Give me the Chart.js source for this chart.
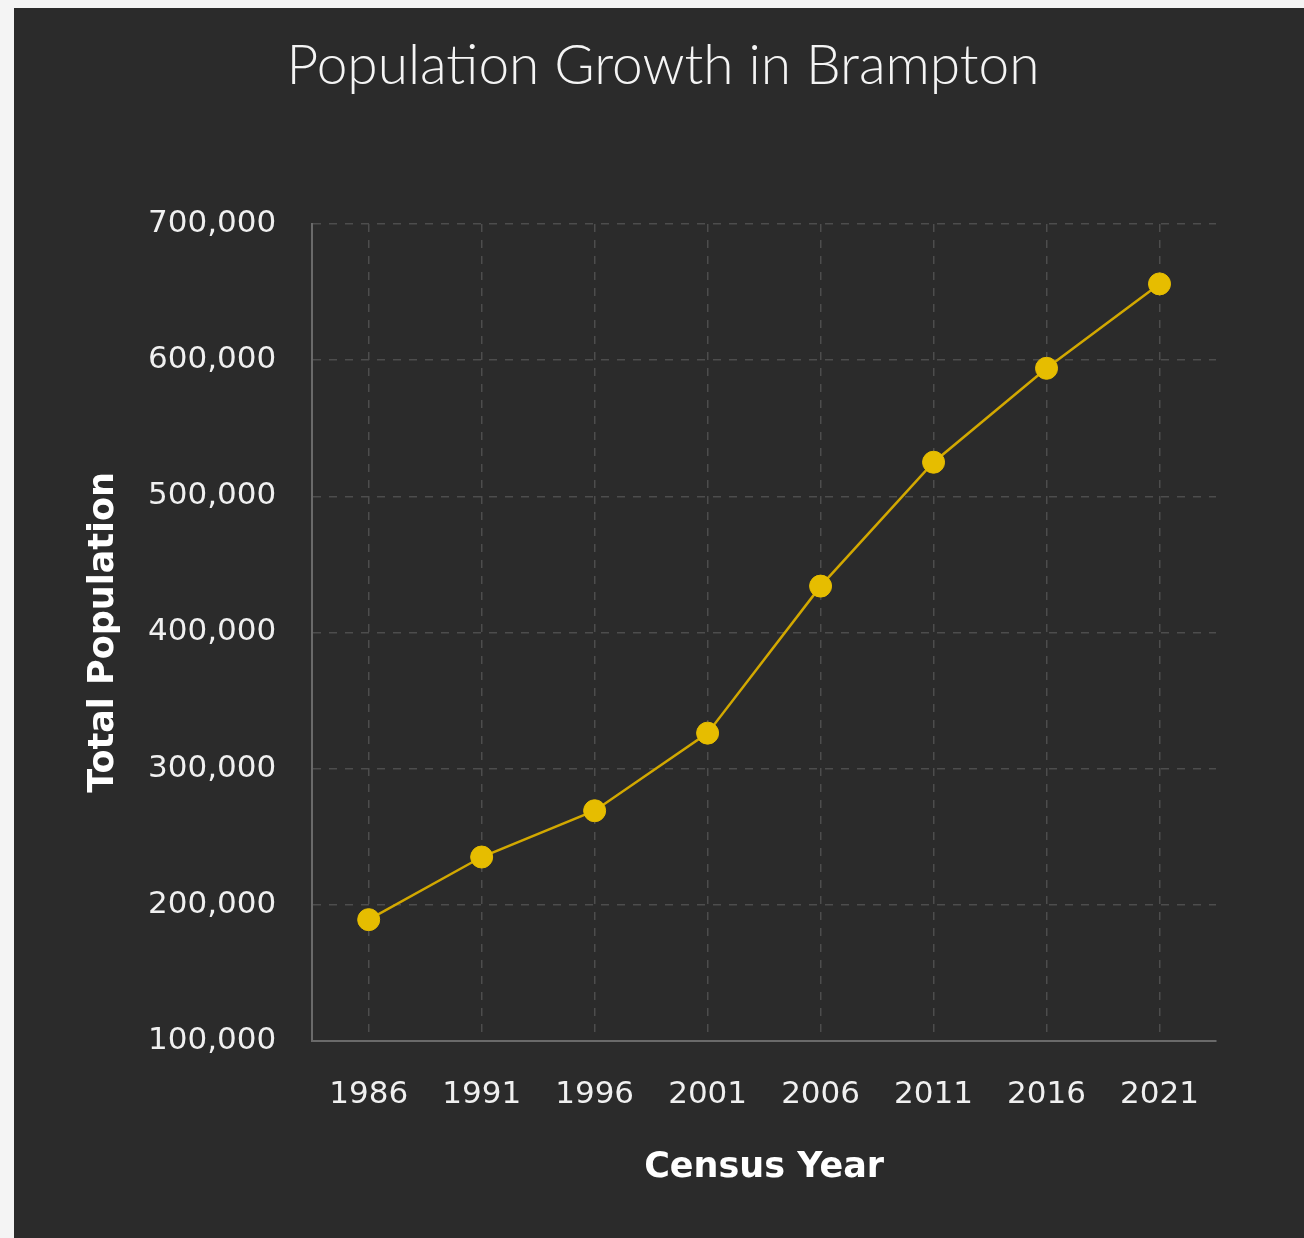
<!DOCTYPE html>
<html>
<head>
<meta charset="utf-8">
<title>Population Growth in Brampton</title>
<script src="https://cdn.jsdelivr.net/npm/chart.js@4.4.1/dist/chart.umd.min.js"></script>
<style>
    html, body { margin: 0; padding: 0; background: #f4f4f4; }
    #wrap {
        position: absolute;
        left: 14px;
        top: 8px;
        width: 1290px;
        height: 1230px;
        background: #2b2b2b;
    }
</style>
</head>
<body>
<div id="wrap"><canvas id="graph"></canvas></div>
<script>
// Census years and population
const years = ['1986', '1991', '1996', '2001', '2006', '2011', '2016', '2021'];
const population = [189000, 235000, 269000, 326000, 434000, 525000, 594000, 656000];
const yTicks = [100000, 200000, 300000, 400000, 500000, 600000, 700000];

const tickFont = { family: '"DejaVu Sans", Verdana, sans-serif', size: 31 };
const axisTitleFont = { family: '"DejaVu Sans", Verdana, sans-serif', size: 35, weight: 'bold' };

const ctx = document.getElementById('graph').getContext('2d');
const chart = new Chart(ctx, {
    type: 'line',
    data: {
        labels: years,
        datasets: [{
            label: 'Total Population',
            data: population,
            borderColor: '#d2a800',
            borderWidth: 2.5,
            backgroundColor: '#e6bd00',
            pointBackgroundColor: '#e6bd00',
            pointBorderColor: '#e6bd00',
            pointRadius: 11,
            pointBorderWidth: 1,
            tension: 0,
            fill: false
        }]
    },
    options: {
        responsive: true,
        maintainAspectRatio: false,
        animation: false,
        layout: {
            // left side is wider so the main title sits a bit right of centre
            padding: { left: 96, right: 88, top: 0, bottom: 49 }
        },
        scales: {
            x: {
                offset: true,
                grid: { color: '#4d4d4d', lineWidth: 1.5, drawTicks: false, offset: false },
                border: { display: true, color: '#6a6a6a', width: 2, dash: [8, 8] },
                ticks: { color: '#f0f0f0', font: tickFont, padding: 36 },
                title: {
                    display: true,
                    text: 'Census Year',
                    color: '#ffffff',
                    font: axisTitleFont,
                    padding: { top: -3, bottom: 0 }
                }
            },
            y: {
                min: 100000,
                max: 700000,
                afterBuildTicks: (axis) => {
                    axis.ticks = yTicks.map(v => ({ value: v }));
                },
                grid: { color: '#4d4d4d', lineWidth: 1.5, drawTicks: false },
                border: { display: true, color: '#6a6a6a', width: 2, dash: [8, 8] },
                ticks: {
                    color: '#f0f0f0',
                    font: tickFont,
                    padding: 36,
                    callback: (v) => Number(v).toLocaleString('en-US')
                },
                title: {
                    display: true,
                    text: 'Total Population',
                    color: '#ffffff',
                    font: axisTitleFont,
                    padding: { top: -27, bottom: -13 }
                }
            }
        },
        plugins: {
            legend: { display: false },
            tooltip: { enabled: false },
            title: {
                display: true,
                text: 'Population Growth in Brampton',
                color: '#f4f4f4',
                font: { family: 'Lato, "Noto Sans", sans-serif', size: 55, weight: 300 },
                padding: { top: 25, bottom: 125 }
            }
        }
    }
});
</script>
</body>
</html>
